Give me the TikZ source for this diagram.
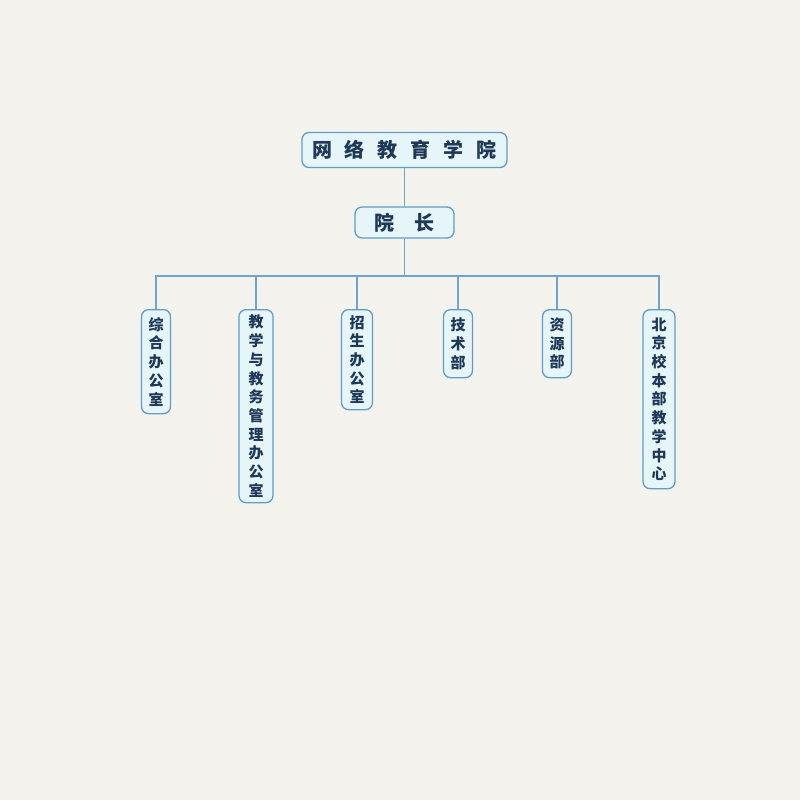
\documentclass[tikz,border=0pt]{standalone}
\usepackage{fontspec}
\newfontfamily\cjk{Noto Sans CJK SC}
\definecolor{bg}{HTML}{F4F2EC}
\definecolor{boxfill}{HTML}{E6F5F8}
\definecolor{boxline}{HTML}{5E9DC9}
\definecolor{linkc}{HTML}{6AA6CF}
\definecolor{ink}{HTML}{1E3858}
\newcommand{\gapA}{\hspace{13bp}}
\begin{document}
\begin{tikzpicture}[x=1bp,y=-1bp,
  box/.style={draw=boxline, fill=boxfill, rounded corners=7bp, line width=1.3bp,
    inner sep=0pt, text=ink, align=center},
  headtext/.style={font=\cjk\bfseries\fontsize{20bp}{24bp}\selectfont},
  unit/.style={box, anchor=north, font=\cjk\bfseries\fontsize{15bp}{18.7bp}\selectfont},
  link/.style={draw=linkc, line width=1.1bp}]
\fill[bg] (0,0) rectangle (800,800);
\useasboundingbox (0,0) rectangle (800,800);

\node[box, headtext, minimum width=205bp, minimum height=35bp] (top) at (404.5,150)
  {网\gapA 络\gapA 教\gapA 育\gapA 学\gapA 院};
\node[box, headtext, minimum width=99bp, minimum height=31bp] (dean) at (404.5,222.5)
  {院\hspace{21bp}长};

\coordinate (bus) at (404.5,276);

\node[unit, minimum width=29bp, minimum height=104bp] (c1) at (156,309) {综\\合\\办\\公\\室};
\node[unit, minimum width=34bp, minimum height=193bp] (c2) at (256,309) {教\\学\\与\\教\\务\\管\\理\\办\\公\\室};
\node[unit, minimum width=31bp, minimum height=100bp] (c3) at (357,309) {招\\生\\办\\公\\室};
\node[unit, minimum width=29bp, minimum height=68bp] (c4) at (458,309) {技\\术\\部};
\node[unit, minimum width=29bp, minimum height=68bp] (c5) at (557,309) {资\\源\\部};
\node[unit, minimum width=32bp, minimum height=179bp] (c6) at (659,309) {北\\京\\校\\本\\部\\教\\学\\中\\心};

\draw[link] (top.south) -- (dean.north);
\draw[link] (dean.south) -- (bus);
\foreach \c in {c1,c2,c3,c4,c5,c6}
  \draw[link] (bus) -| (\c.north);
\end{tikzpicture}
\end{document}
